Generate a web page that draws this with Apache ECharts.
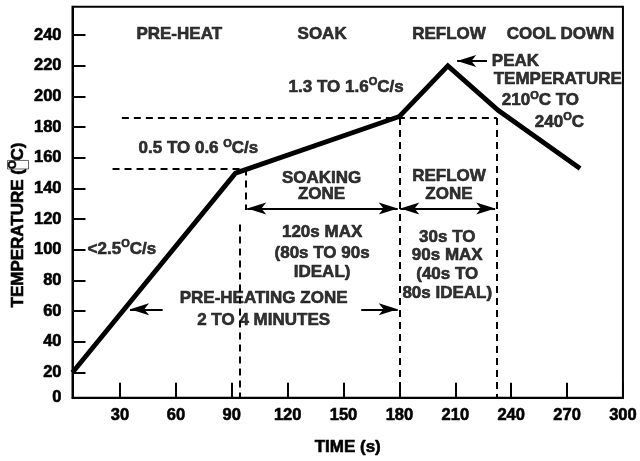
<!DOCTYPE html>
<html>
<head>
<meta charset="utf-8">
<script src="https://cdn.jsdelivr.net/npm/echarts@6/dist/echarts.min.js"></script>
<style>
html,body{margin:0;padding:0;background:#fff;}
#chart{width:640px;height:461px;}
</style>
</head>
<body>
<div id="chart"></div>
<script>
// ---- data ----
const xTickValues = [30, 60, 90, 120, 150, 180, 210, 240, 270, 300];
const yTickValues = [20, 40, 60, 80, 100, 120, 140, 160, 180, 200, 220, 240];
const xMin = 4.5, xMax = 300;
const yMin = 3.5, yMax = 258.6;

// reflow profile (time s, temperature C)
const profileTime = [4.5, 92, 180, 206, 233, 277];
const profileTemp = [20, 150, 187, 220, 191, 153];

// dashed guide segments [[t1,T1],[t2,T2]]
const guideSegments = [
  [[26, 153], [97.4, 153]],
  [[97.4, 153], [97.4, 126]],
  [[94.4, 116.5], [94.4, 3.5]],
  [[31, 186], [232.3, 186]],
  [[180, 186], [180, 3.5]],
  [[232.3, 186], [232.3, 3.5]]
];

// arrows: from, to, double-headed?
const arrowSegments = [
  [[98.3, 127], [179.1, 127], true],
  [[180.5, 127], [231.4, 127], true],
  [[52.9, 61.2], [35.4, 61.2], false],
  [[159.5, 61.2], [179.1, 61.2], false],
  [[227, 223.1], [211, 223.1], false]
];

// text annotations: time, temp, text, align
const annotations = [
  [61.8, 240.5, 'PRE-HEAT', 'center'],
  [138.5, 240.5, 'SOAK', 'center'],
  [206.6, 240.5, 'REFLOW', 'center'],
  [266.5, 240.5, 'COOL DOWN', 'center'],
  [151.4, 206, '1.3 TO 1.6{s|O}C/s', 'center'],
  [72.1, 166.1, '0.5 TO 0.6 {s|O}C/s', 'center'],
  [12.6, 100.5, '<2.5{s|O}C/s', 'left'],
  [229.6, 223.1, 'PEAK', 'left'],
  [230.6, 211.3, 'TEMPERATURE', 'left'],
  [235, 197.3, '210{s|O}C TO', 'left'],
  [252.7, 183.4, '240{s|O}C', 'left'],
  [138.2, 146.8, 'SOAKING', 'center'],
  [138.2, 136, 'ZONE', 'center'],
  [138.5, 111.3, '120s MAX', 'center'],
  [138.5, 97.7, '(80s TO 90s', 'center'],
  [138.5, 85.5, 'IDEAL)', 'center'],
  [107.1, 68.3, 'PRE-HEATING ZONE', 'center'],
  [107.1, 53.9, '2 TO 4 MINUTES', 'center'],
  [206.6, 147.9, 'REFLOW', 'center'],
  [206.6, 136, 'ZONE', 'center'],
  [205.7, 108.1, '30s TO', 'center'],
  [205.7, 96.3, '90s MAX', 'center'],
  [205.7, 83.7, '(40s TO', 'center'],
  [205.7, 71.5, '80s IDEAL)', 'center']
];

// ---- chart ----
const FONT = "'Liberation Sans', Arial, Helvetica, sans-serif";
const heavy = { textBorderColor: '#000', textBorderWidth: 0.6 };
const supRich = {
  s: Object.assign({ fontSize: 11, fontWeight: 'bold', fontFamily: FONT, color: '#000', padding: [0, 0, 10, 0] }, heavy)
};

const chart = echarts.init(document.getElementById('chart'), null, { renderer: 'canvas' });

const dashStyle = { color: '#000', width: 2, type: [7, 5] };
const markLineData = [];
guideSegments.forEach(seg => {
  markLineData.push([
    { coord: seg[0], symbol: 'none', lineStyle: dashStyle },
    { coord: seg[1], symbol: 'none' }
  ]);
});
arrowSegments.forEach(a => {
  markLineData.push([
    { coord: a[0], symbol: a[2] ? 'arrow' : 'none', symbolSize: [9, 19], lineStyle: { color: '#000', width: 2, type: 'solid' } },
    { coord: a[1], symbol: 'arrow', symbolSize: [9, 19] }
  ]);
});

const option = {
  animation: false,
  backgroundColor: '#fff',
  grid: {
    left: 72.5, right: 13, top: 6.7, bottom: 59,
    show: true, borderColor: '#000', borderWidth: 2
  },
  xAxis: {
    type: 'value', min: xMin, max: xMax,
    axisLine: { show: true, lineStyle: { color: '#000', width: 2 } },
    axisTick: { show: true, inside: true, length: 15, customValues: xTickValues, lineStyle: { color: '#000', width: 2 } },
    axisLabel: Object.assign({ customValues: xTickValues, color: '#000', fontSize: 16.5, fontWeight: 'bold', fontFamily: FONT, margin: 9 }, heavy),
    splitLine: { show: false },
    name: 'TIME (s)', nameLocation: 'middle', nameGap: 41,
    nameTextStyle: Object.assign({ color: '#000', fontSize: 17, fontWeight: 'bold', fontFamily: FONT }, heavy)
  },
  yAxis: {
    type: 'value', min: yMin, max: yMax,
    axisLine: { show: true, lineStyle: { color: '#000', width: 2 } },
    axisTick: { show: true, inside: true, length: 13, customValues: yTickValues, lineStyle: { color: '#000', width: 2 } },
    axisLabel: Object.assign({
      customValues: [yMin].concat(yTickValues),
      formatter: v => (v < 10 ? '0' : String(v)),
      color: '#000', fontSize: 16.5, fontWeight: 'bold', fontFamily: FONT, margin: 11
    }, heavy),
    splitLine: { show: false }
  },
  graphic: [{
    type: 'text',
    x: 18, y: 225,
    rotation: Math.PI / 2,
    style: {
      text: 'TEMPERATURE ({s|O}C)',
      fill: '#000',
      stroke: '#000', lineWidth: 0.6,
      font: "bold 17px 'Liberation Sans', Arial, sans-serif",
      align: 'center', verticalAlign: 'middle',
      textAlign: 'center', textVerticalAlign: 'middle',
      rich: supRich
    }
  }],
  series: [
    {
      type: 'line',
      data: profileTime.map((t, i) => [t, profileTemp[i]]),
      symbol: 'none',
      lineStyle: { color: '#000', width: 4.8, join: 'miter', cap: 'butt' },
      z: 5
    },
    {
      type: 'line',
      data: [],
      markLine: {
        silent: true,
        animation: false,
        label: { show: false },
        emphasis: { disabled: true },
        data: markLineData
      }
    },
    {
      type: 'scatter',
      symbolSize: 0,
      silent: true,
      data: annotations.map(a => ({
        value: [a[0], a[1]],
        label: Object.assign({
          show: true,
          formatter: a[2],
          position: [0, 0],
          align: a[3],
          verticalAlign: 'middle',
          color: '#000', fontSize: 17, fontWeight: 'bold', fontFamily: FONT,
          rich: supRich
        }, heavy)
      }))
    }
  ]
};
chart.setOption(option);
</script>
</body>
</html>
